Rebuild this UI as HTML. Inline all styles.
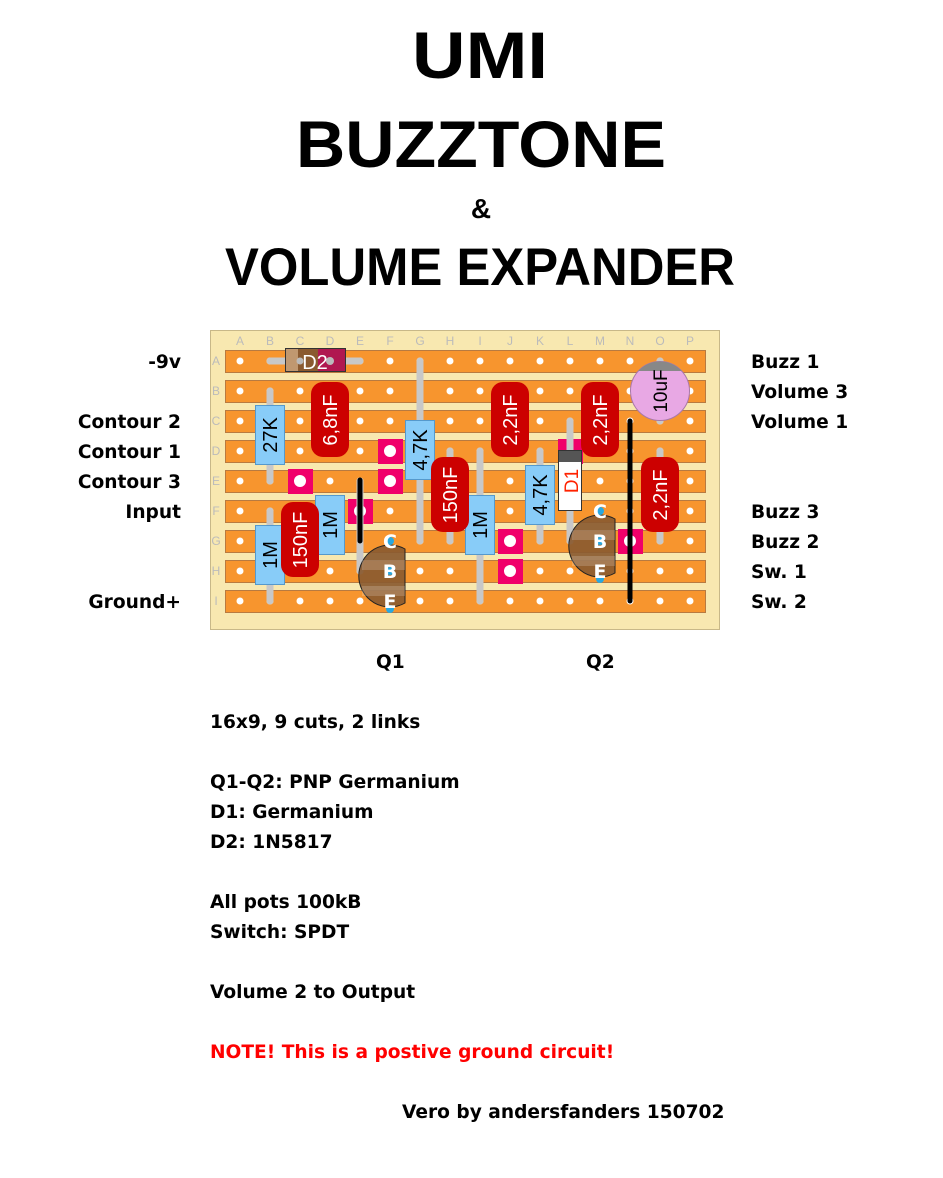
<!DOCTYPE html>
<html><head><meta charset="utf-8"><style>
html,body{margin:0;padding:0;background:#fff}
svg{display:block}
.t{font-family:"Liberation Sans",sans-serif;font-weight:bold;fill:#000}
.l{font-family:"DejaVu Sans","Liberation Sans",sans-serif;font-weight:bold;font-size:18.6px;fill:#000}
.g{font-family:"Liberation Sans",sans-serif;font-size:12px;fill:#bbb}
</style></head><body>
<svg width="943" height="1178" viewBox="0 0 943 1178" xmlns="http://www.w3.org/2000/svg">
<text class="t" x="480" y="78" font-size="66" text-anchor="middle" textLength="136" lengthAdjust="spacingAndGlyphs">UMI</text>
<text class="t" x="481" y="167" font-size="66" text-anchor="middle" textLength="370" lengthAdjust="spacingAndGlyphs">BUZZTONE</text>
<text class="t" x="481" y="218" font-size="28" text-anchor="middle">&amp;</text>
<text class="t" x="480" y="285" font-size="53" text-anchor="middle" textLength="510" lengthAdjust="spacingAndGlyphs">VOLUME EXPANDER</text>

<rect x="210.5" y="330.5" width="509" height="299" fill="#f8e8b0" stroke="#c8b888"/>
<g class="g" text-anchor="middle">
<text x="240" y="345">A</text><text x="270" y="345">B</text><text x="300" y="345">C</text><text x="330" y="345">D</text><text x="360" y="345">E</text><text x="390" y="345">F</text><text x="420" y="345">G</text><text x="450" y="345">H</text><text x="480" y="345">I</text><text x="510" y="345">J</text><text x="540" y="345">K</text><text x="570" y="345">L</text><text x="600" y="345">M</text><text x="630" y="345">N</text><text x="660" y="345">O</text><text x="690" y="345">P</text>
<text x="216" y="365">A</text><text x="216" y="395">B</text><text x="216" y="425">C</text><text x="216" y="455">D</text><text x="216" y="485">E</text><text x="216" y="515">F</text><text x="216" y="545">G</text><text x="216" y="575">H</text><text x="216" y="605">I</text>
</g>
<g fill="#f7952e" stroke="#b87a40" stroke-width="1">
<rect x="225.5" y="350.5" width="480" height="22"/><rect x="225.5" y="380.5" width="480" height="22"/><rect x="225.5" y="410.5" width="480" height="22"/><rect x="225.5" y="440.5" width="480" height="22"/><rect x="225.5" y="470.5" width="480" height="22"/><rect x="225.5" y="500.5" width="480" height="22"/><rect x="225.5" y="530.5" width="480" height="22"/><rect x="225.5" y="560.5" width="480" height="22"/><rect x="225.5" y="590.5" width="480" height="22"/>
</g>
<g fill="#fff">
<circle cx="240" cy="361" r="3.5"/><circle cx="270" cy="361" r="3.5"/><circle cx="300" cy="361" r="3.5"/><circle cx="330" cy="361" r="3.5"/><circle cx="360" cy="361" r="3.5"/><circle cx="390" cy="361" r="3.5"/><circle cx="420" cy="361" r="3.5"/><circle cx="450" cy="361" r="3.5"/><circle cx="480" cy="361" r="3.5"/><circle cx="510" cy="361" r="3.5"/><circle cx="540" cy="361" r="3.5"/><circle cx="570" cy="361" r="3.5"/><circle cx="600" cy="361" r="3.5"/><circle cx="630" cy="361" r="3.5"/><circle cx="660" cy="361" r="3.5"/><circle cx="690" cy="361" r="3.5"/>
<circle cx="240" cy="391" r="3.5"/><circle cx="270" cy="391" r="3.5"/><circle cx="300" cy="391" r="3.5"/><circle cx="330" cy="391" r="3.5"/><circle cx="360" cy="391" r="3.5"/><circle cx="390" cy="391" r="3.5"/><circle cx="420" cy="391" r="3.5"/><circle cx="450" cy="391" r="3.5"/><circle cx="480" cy="391" r="3.5"/><circle cx="510" cy="391" r="3.5"/><circle cx="540" cy="391" r="3.5"/><circle cx="570" cy="391" r="3.5"/><circle cx="600" cy="391" r="3.5"/><circle cx="630" cy="391" r="3.5"/><circle cx="660" cy="391" r="3.5"/><circle cx="690" cy="391" r="3.5"/>
<circle cx="240" cy="421" r="3.5"/><circle cx="270" cy="421" r="3.5"/><circle cx="300" cy="421" r="3.5"/><circle cx="330" cy="421" r="3.5"/><circle cx="360" cy="421" r="3.5"/><circle cx="390" cy="421" r="3.5"/><circle cx="420" cy="421" r="3.5"/><circle cx="450" cy="421" r="3.5"/><circle cx="480" cy="421" r="3.5"/><circle cx="510" cy="421" r="3.5"/><circle cx="540" cy="421" r="3.5"/><circle cx="570" cy="421" r="3.5"/><circle cx="600" cy="421" r="3.5"/><circle cx="630" cy="421" r="3.5"/><circle cx="660" cy="421" r="3.5"/><circle cx="690" cy="421" r="3.5"/>
<circle cx="240" cy="451" r="3.5"/><circle cx="270" cy="451" r="3.5"/><circle cx="300" cy="451" r="3.5"/><circle cx="330" cy="451" r="3.5"/><circle cx="360" cy="451" r="3.5"/><circle cx="390" cy="451" r="3.5"/><circle cx="420" cy="451" r="3.5"/><circle cx="450" cy="451" r="3.5"/><circle cx="480" cy="451" r="3.5"/><circle cx="510" cy="451" r="3.5"/><circle cx="540" cy="451" r="3.5"/><circle cx="570" cy="451" r="3.5"/><circle cx="600" cy="451" r="3.5"/><circle cx="630" cy="451" r="3.5"/><circle cx="660" cy="451" r="3.5"/><circle cx="690" cy="451" r="3.5"/>
<circle cx="240" cy="481" r="3.5"/><circle cx="270" cy="481" r="3.5"/><circle cx="300" cy="481" r="3.5"/><circle cx="330" cy="481" r="3.5"/><circle cx="360" cy="481" r="3.5"/><circle cx="390" cy="481" r="3.5"/><circle cx="420" cy="481" r="3.5"/><circle cx="450" cy="481" r="3.5"/><circle cx="480" cy="481" r="3.5"/><circle cx="510" cy="481" r="3.5"/><circle cx="540" cy="481" r="3.5"/><circle cx="570" cy="481" r="3.5"/><circle cx="600" cy="481" r="3.5"/><circle cx="630" cy="481" r="3.5"/><circle cx="660" cy="481" r="3.5"/><circle cx="690" cy="481" r="3.5"/>
<circle cx="240" cy="511" r="3.5"/><circle cx="270" cy="511" r="3.5"/><circle cx="300" cy="511" r="3.5"/><circle cx="330" cy="511" r="3.5"/><circle cx="360" cy="511" r="3.5"/><circle cx="390" cy="511" r="3.5"/><circle cx="420" cy="511" r="3.5"/><circle cx="450" cy="511" r="3.5"/><circle cx="480" cy="511" r="3.5"/><circle cx="510" cy="511" r="3.5"/><circle cx="540" cy="511" r="3.5"/><circle cx="570" cy="511" r="3.5"/><circle cx="600" cy="511" r="3.5"/><circle cx="630" cy="511" r="3.5"/><circle cx="660" cy="511" r="3.5"/><circle cx="690" cy="511" r="3.5"/>
<circle cx="240" cy="541" r="3.5"/><circle cx="270" cy="541" r="3.5"/><circle cx="300" cy="541" r="3.5"/><circle cx="330" cy="541" r="3.5"/><circle cx="360" cy="541" r="3.5"/><circle cx="390" cy="541" r="3.5"/><circle cx="420" cy="541" r="3.5"/><circle cx="450" cy="541" r="3.5"/><circle cx="480" cy="541" r="3.5"/><circle cx="510" cy="541" r="3.5"/><circle cx="540" cy="541" r="3.5"/><circle cx="570" cy="541" r="3.5"/><circle cx="600" cy="541" r="3.5"/><circle cx="630" cy="541" r="3.5"/><circle cx="660" cy="541" r="3.5"/><circle cx="690" cy="541" r="3.5"/>
<circle cx="240" cy="571" r="3.5"/><circle cx="270" cy="571" r="3.5"/><circle cx="300" cy="571" r="3.5"/><circle cx="330" cy="571" r="3.5"/><circle cx="360" cy="571" r="3.5"/><circle cx="390" cy="571" r="3.5"/><circle cx="420" cy="571" r="3.5"/><circle cx="450" cy="571" r="3.5"/><circle cx="480" cy="571" r="3.5"/><circle cx="510" cy="571" r="3.5"/><circle cx="540" cy="571" r="3.5"/><circle cx="570" cy="571" r="3.5"/><circle cx="600" cy="571" r="3.5"/><circle cx="630" cy="571" r="3.5"/><circle cx="660" cy="571" r="3.5"/><circle cx="690" cy="571" r="3.5"/>
<circle cx="240" cy="601" r="3.5"/><circle cx="270" cy="601" r="3.5"/><circle cx="300" cy="601" r="3.5"/><circle cx="330" cy="601" r="3.5"/><circle cx="360" cy="601" r="3.5"/><circle cx="390" cy="601" r="3.5"/><circle cx="420" cy="601" r="3.5"/><circle cx="450" cy="601" r="3.5"/><circle cx="480" cy="601" r="3.5"/><circle cx="510" cy="601" r="3.5"/><circle cx="540" cy="601" r="3.5"/><circle cx="570" cy="601" r="3.5"/><circle cx="600" cy="601" r="3.5"/><circle cx="630" cy="601" r="3.5"/><circle cx="660" cy="601" r="3.5"/><circle cx="690" cy="601" r="3.5"/>
</g>
<g fill="#f0006a">
<rect x="288" y="469" width="25" height="25"/><rect x="378" y="439" width="25" height="25"/><rect x="378" y="469" width="25" height="25"/><rect x="348" y="499" width="25" height="25"/><rect x="498" y="529" width="25" height="25"/><rect x="498" y="559" width="25" height="25"/><rect x="618" y="529" width="25" height="25"/><rect x="558" y="439" width="25" height="25"/>
</g>
<g fill="#fff">
<circle cx="300" cy="481" r="6"/><circle cx="390" cy="451" r="6"/><circle cx="390" cy="481" r="6"/><circle cx="360" cy="511" r="6"/><circle cx="510" cy="541" r="6"/><circle cx="510" cy="571" r="6"/><circle cx="630" cy="541" r="6"/>
</g>
<g stroke="#c8c8c8" stroke-width="7" stroke-linecap="round" fill="none">
<line x1="270" y1="361" x2="360" y2="361"/>
<line x1="270" y1="391" x2="270" y2="481"/>
<line x1="420" y1="361" x2="420" y2="541"/>
<line x1="450" y1="451" x2="450" y2="541"/>
<line x1="270" y1="511" x2="270" y2="601"/>
<line x1="360" y1="481" x2="360" y2="571"/>
<line x1="480" y1="451" x2="480" y2="601"/>
<line x1="540" y1="451" x2="540" y2="541"/>
<line x1="570" y1="421" x2="570" y2="541"/>
<line x1="660" y1="361" x2="660" y2="421"/>
<line x1="660" y1="451" x2="660" y2="541"/>
</g>
<g stroke="#000" stroke-width="5" stroke-linecap="round">
<line x1="360" y1="480" x2="360" y2="541"/>
<line x1="630" y1="421" x2="630" y2="601"/>
</g>
<rect x="285.5" y="348.5" width="60" height="23" fill="#8a5a30" stroke="#333"/>
<rect x="286" y="349" width="12" height="22" fill="#c09870"/>
<rect x="318" y="349" width="27" height="22" fill="#b01850"/>
<circle cx="330" cy="361" r="4" fill="#bbb"/>
<circle cx="300" cy="361" r="3.5" fill="#bbb"/>
<text x="315" y="369" font-family="Liberation Sans,sans-serif" font-size="20" fill="#fff" text-anchor="middle">D2</text>
<g fill="#88ccf8" stroke="#5599cc">
<rect x="255.5" y="405.5" width="29" height="59"/>
<rect x="405.5" y="420.5" width="29" height="59"/>
<rect x="255.5" y="525.5" width="29" height="59"/>
<rect x="315.5" y="495.5" width="29" height="59"/>
<rect x="465.5" y="495.5" width="29" height="59"/>
<rect x="525.5" y="465.5" width="29" height="59"/>
</g>
<g font-family="Liberation Sans,sans-serif" font-size="20" fill="#000" text-anchor="middle">
<text transform="translate(277,435) rotate(-90)">27K</text>
<text transform="translate(427,450) rotate(-90)">4,7K</text>
<text transform="translate(277,555) rotate(-90)">1M</text>
<text transform="translate(337,525) rotate(-90)">1M</text>
<text transform="translate(487,525) rotate(-90)">1M</text>
<text transform="translate(547,495) rotate(-90)">4,7K</text>
</g>
<g fill="#cc0000">
<rect x="311" y="382" width="38" height="75" rx="12"/>
<rect x="431" y="457" width="38" height="75" rx="12"/>
<rect x="281" y="502" width="38" height="75" rx="12"/>
<rect x="491" y="382" width="38" height="75" rx="12"/>
<rect x="581" y="382" width="38" height="75" rx="12"/>
<rect x="641" y="457" width="38" height="75" rx="12"/>
</g>
<g font-family="Liberation Sans,sans-serif" font-size="20" fill="#fff" text-anchor="middle">
<text transform="translate(337,420) rotate(-90)">6,8nF</text>
<text transform="translate(457,495) rotate(-90)">150nF</text>
<text transform="translate(307,540) rotate(-90)">150nF</text>
<text transform="translate(517,420) rotate(-90)">2,2nF</text>
<text transform="translate(607,420) rotate(-90)">2,2nF</text>
<text transform="translate(667,495) rotate(-90)">2,2nF</text>
</g>
<rect x="558.5" y="450.5" width="23" height="60" fill="#fff" stroke="#333"/>
<rect x="559" y="451" width="22" height="11" fill="#555"/>
<text transform="translate(578,481) rotate(-90)" font-family="Liberation Sans,sans-serif" font-size="19" fill="#ff2200" text-anchor="middle">D1</text>
<clipPath id="cc"><circle cx="660" cy="391" r="29.5"/></clipPath>
<circle cx="660" cy="391" r="29.5" fill="#e8a8e4" stroke="#a878a8"/>
<rect x="630" y="361" width="60" height="10" fill="#888" clip-path="url(#cc)"/>
<text transform="translate(667,391) rotate(-90)" font-family="Liberation Sans,sans-serif" font-size="19" fill="#000" text-anchor="middle">10uF</text>
<g fill="#8a5a30" fill-opacity="0.92" stroke="#222">
<path d="M405,549 A31,31 0 1 0 405,603 Z"/>
<path d="M615,519 A31,31 0 1 0 615,573 Z"/>
</g>
<g fill="#fff" fill-opacity="0.18">
<rect x="362" y="560" width="43" height="10"/><rect x="362" y="586" width="43" height="10"/>
<rect x="572" y="530" width="43" height="10"/><rect x="572" y="556" width="43" height="10"/>
</g>
<g fill="#29a8e0"><circle cx="390" cy="541" r="4"/><circle cx="390" cy="571" r="4"/><circle cx="390" cy="609" r="4"/><circle cx="600" cy="511" r="4"/><circle cx="600" cy="541" r="4"/><circle cx="600" cy="579" r="4"/></g>
<g font-family="DejaVu Sans,sans-serif" font-weight="bold" font-size="19" fill="#fff" text-anchor="middle">
<text x="390" y="548">C</text><text x="390" y="578">B</text><text x="390" y="608">E</text>
<text x="600" y="518">C</text><text x="600" y="548">B</text><text x="600" y="578">E</text>
</g>
<g class="l" text-anchor="end">
<text x="181" y="368">-9v</text><text x="181" y="428">Contour 2</text><text x="181" y="458">Contour 1</text><text x="181" y="488">Contour 3</text><text x="181" y="518">Input</text><text x="181" y="608">Ground+</text>
</g>
<g class="l">
<text x="751" y="368">Buzz 1</text><text x="751" y="398">Volume 3</text><text x="751" y="428">Volume 1</text><text x="751" y="518">Buzz 3</text><text x="751" y="548">Buzz 2</text><text x="751" y="578">Sw. 1</text><text x="751" y="608">Sw. 2</text>
<text x="376" y="668">Q1</text><text x="586" y="668">Q2</text>
<text x="210" y="728">16x9, 9 cuts, 2 links</text>
<text x="210" y="788">Q1-Q2: PNP Germanium</text>
<text x="210" y="818">D1: Germanium</text>
<text x="210" y="848">D2: 1N5817</text>
<text x="210" y="908">All pots 100kB</text>
<text x="210" y="938">Switch: SPDT</text>
<text x="210" y="998">Volume 2 to Output</text>
<text x="210" y="1058" style="fill:#ff0000">NOTE! This is a postive ground circuit!</text>
<text x="402" y="1118">Vero by andersfanders 150702</text>
</g>
</svg>
</body></html>
